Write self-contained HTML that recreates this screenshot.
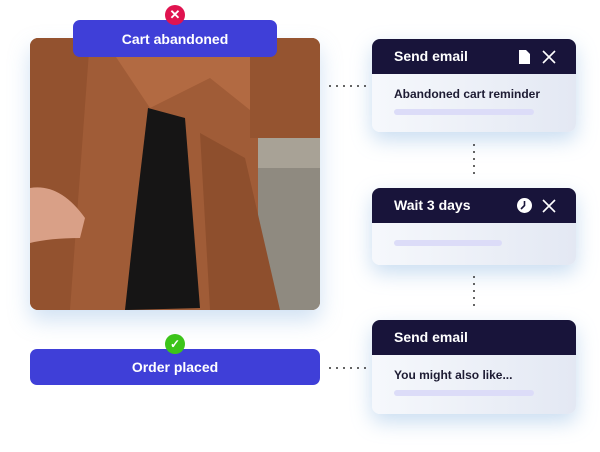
<!DOCTYPE html>
<html><head><style>
body{margin:0;width:600px;height:452px;background:#fff;position:relative;overflow:hidden;font-family:"Liberation Sans",sans-serif}
.abs{position:absolute}
.btn{background:#3f3fd8;color:#fff;border-radius:7px;font-size:14px;font-weight:bold;display:flex;align-items:center;justify-content:center}
.card{position:absolute;left:372px;width:204px;border-radius:8px;overflow:hidden;box-shadow:0 8px 20px rgba(120,170,220,.4);background:linear-gradient(90deg,#f6f8fc,#e3e8f3)}
.hd{background:#18143a;color:#fff;height:35px;font-size:14px;font-weight:bold;padding-left:22px;line-height:35px;position:relative}
.sub{font-size:12px;font-weight:bold;color:#1d1b33;padding:13px 0 0 22px}
.bar{height:6px;border-radius:3px;background:#dcdcf8;margin-left:22px}
.dot{position:absolute;width:2px;height:2px;background:#333;border-radius:1px}
.x{position:absolute;right:20px;top:11px}
</style></head><body>
<div class="abs" style="left:30px;top:38px;width:290px;height:272px;border-radius:8px;overflow:hidden;box-shadow:0 10px 22px rgba(120,170,220,.35)">
<svg width="290" height="272">
<rect width="290" height="272" fill="#a05c37"/>
<rect x="228" y="105" width="62" height="167" fill="#8f8a80"/>
<rect x="228" y="100" width="62" height="30" fill="#a8a296"/>
<path d="M60 0 L80 10 L120 70 L180 40 L230 80 L290 0 Z" fill="#b26a42"/>
<path d="M118 70 L155 80 L170 270 L95 272 L105 180 Z" fill="#161515"/>
<path d="M170 95 L215 120 L250 272 L180 272 Z" fill="#8e4f2d"/>
<path d="M0 0 L60 0 L40 272 L0 272 Z" fill="#93522f"/>
<path d="M0 150 Q30 145 55 180 L50 200 Q20 200 0 205 Z" fill="#d9a087"/>
<rect x="220" y="0" width="70" height="100" fill="#955430"/>
</svg></div>
<div class="btn abs" style="left:73px;top:20px;width:204px;height:37px">Cart abandoned</div>
<div class="abs" style="left:165px;top:5px;width:20px;height:20px;border-radius:50%;background:#e0134f;color:#fff;font-size:13px;line-height:20px;text-align:center;font-weight:bold">✕</div>
<div class="btn abs" style="left:30px;top:349px;width:290px;height:36px">Order placed</div>
<div class="abs" style="left:165px;top:334px;width:20px;height:20px;border-radius:50%;background:#3cc41a;color:#fff;font-size:12px;line-height:20px;text-align:center;font-weight:bold">✓</div>

<div class="card" style="top:39px;height:93px"><div class="hd">Send email
<svg class="abs" style="right:46px;top:11px" width="11" height="14"><path d="M0 0H7L11 4V14H0Z" fill="#fff"/></svg>
<svg class="x" width="14" height="14"><path d="M1 1L13 13M13 1L1 13" stroke="#fff" stroke-width="1.6"/></svg></div><div class="sub">Abandoned cart reminder</div><div class="bar" style="width:140px;margin-top:8px"></div></div>
<div class="card" style="top:188px;height:77px"><div class="hd">Wait 3 days
<svg class="abs" style="right:44px;top:10px" width="15" height="15"><circle cx="7.5" cy="7.5" r="7.5" fill="#fff"/><path d="M7.5 3V7.5L4 11" stroke="#18143a" stroke-width="1.6" fill="none"/></svg>
<svg class="x" width="14" height="14"><path d="M1 1L13 13M13 1L1 13" stroke="#fff" stroke-width="1.6"/></svg></div><div class="bar" style="width:108px;margin-top:17px"></div></div>
<div class="card" style="top:320px;height:94px"><div class="hd">Send email</div><div class="sub">You might also like...</div><div class="bar" style="width:140px;margin-top:8px"></div></div>

<div class="dot" style="left:329px;top:85px"></div><div class="dot" style="left:336px;top:85px"></div><div class="dot" style="left:343px;top:85px"></div><div class="dot" style="left:350px;top:85px"></div><div class="dot" style="left:357px;top:85px"></div><div class="dot" style="left:364px;top:85px"></div>
<div class="dot" style="left:329px;top:367px"></div><div class="dot" style="left:336px;top:367px"></div><div class="dot" style="left:343px;top:367px"></div><div class="dot" style="left:350px;top:367px"></div><div class="dot" style="left:357px;top:367px"></div><div class="dot" style="left:364px;top:367px"></div>
<div class="dot" style="left:473px;top:144px"></div><div class="dot" style="left:473px;top:151px"></div><div class="dot" style="left:473px;top:158px"></div><div class="dot" style="left:473px;top:165px"></div><div class="dot" style="left:473px;top:172px"></div>
<div class="dot" style="left:473px;top:276px"></div><div class="dot" style="left:473px;top:283px"></div><div class="dot" style="left:473px;top:290px"></div><div class="dot" style="left:473px;top:297px"></div><div class="dot" style="left:473px;top:304px"></div>
</body></html>
